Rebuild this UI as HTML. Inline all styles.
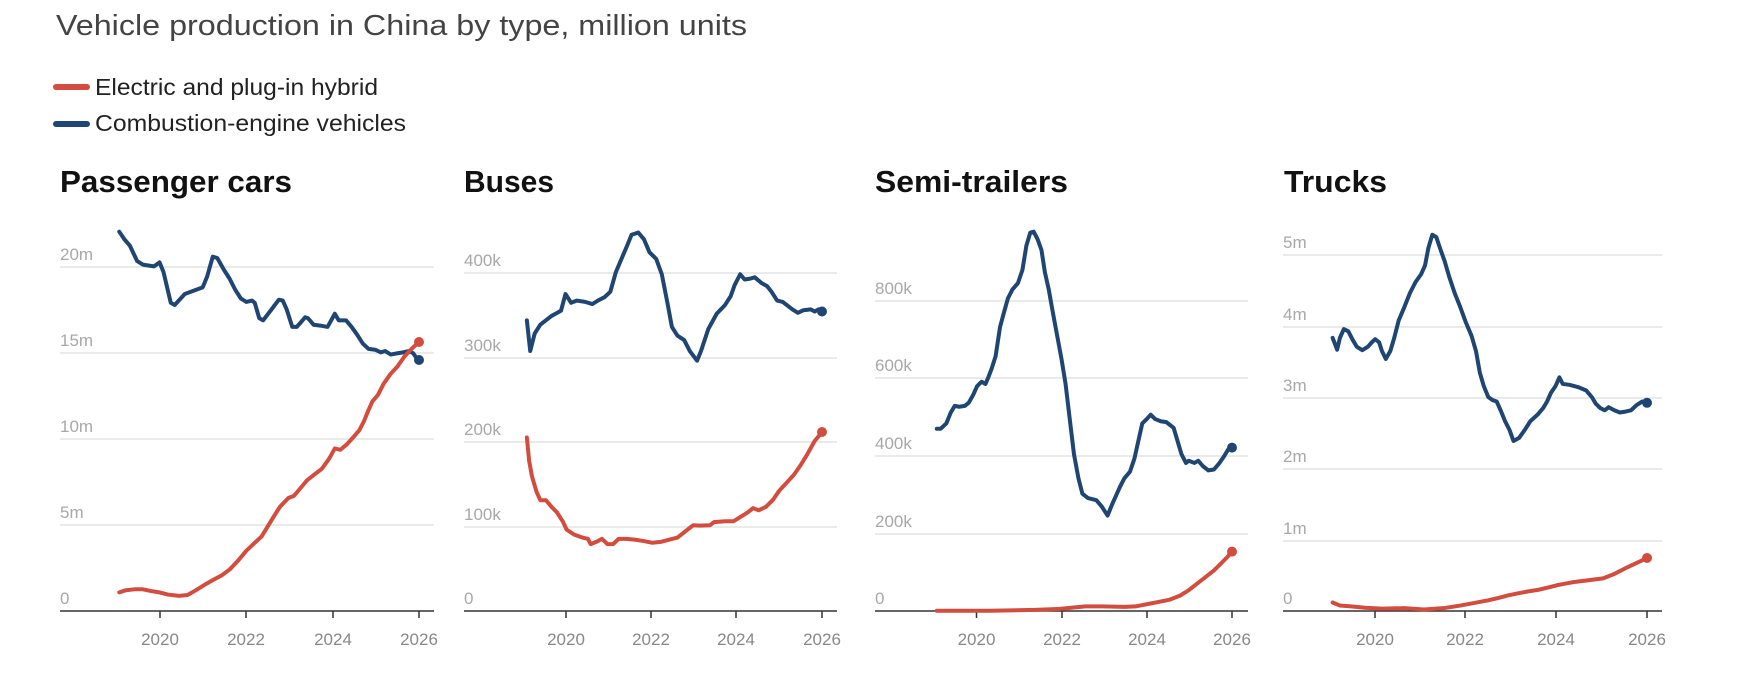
<!DOCTYPE html>
<html><head><meta charset="utf-8"><style>
html,body{margin:0;padding:0;background:#fff;}
svg{display:block;font-family:"Liberation Sans",sans-serif;}
.g{stroke:#e4e4e4;stroke-width:1.5}
.ax{stroke:#333;stroke-width:1.5}
.yl{fill:#a8a8a8;font-size:17px}
.xl{fill:#888;font-size:17px;text-anchor:middle}
.st{font-weight:bold;font-size:31px;fill:#111}
.b{fill:none;stroke:#1f4672;stroke-width:4;stroke-linejoin:round;stroke-linecap:round}
.r{fill:none;stroke:#d24d3e;stroke-width:4;stroke-linejoin:round;stroke-linecap:round}
</style></head><body>
<svg width="1756" height="688" viewBox="0 0 1756 688">
<text x="56" y="35" font-size="29" fill="#444" textLength="691" lengthAdjust="spacingAndGlyphs">Vehicle production in China by type, million units</text>
<line x1="56" y1="87" x2="87" y2="87" stroke="#d24d3e" stroke-width="6" stroke-linecap="round"/>
<line x1="56" y1="124" x2="87" y2="124" stroke="#1f4672" stroke-width="6" stroke-linecap="round"/>
<text x="95" y="95" font-size="23" fill="#222" textLength="283" lengthAdjust="spacingAndGlyphs">Electric and plug-in hybrid</text>
<text x="95" y="131" font-size="23" fill="#222" textLength="311" lengthAdjust="spacingAndGlyphs">Combustion-engine vehicles</text>

<!-- Panel 1 -->
<text class="st" x="60" y="192" textLength="232" lengthAdjust="spacingAndGlyphs">Passenger cars</text>
<g class="g"><line x1="60" y1="267" x2="434" y2="267"/><line x1="60" y1="353" x2="434" y2="353"/><line x1="60" y1="439" x2="434" y2="439"/><line x1="60" y1="525" x2="434" y2="525"/></g>
<g class="yl"><text x="60" y="260">20m</text><text x="60" y="346">15m</text><text x="60" y="432">10m</text><text x="60" y="518">5m</text><text x="60" y="604">0</text></g>
<line class="ax" x1="60" y1="611" x2="434" y2="611"/>
<g class="ax"><line x1="160" y1="611" x2="160" y2="618"/><line x1="246" y1="611" x2="246" y2="618"/><line x1="333" y1="611" x2="333" y2="618"/><line x1="419" y1="611" x2="419" y2="618"/></g>
<g class="xl"><text x="160" y="645">2020</text><text x="246" y="645">2022</text><text x="333" y="645">2024</text><text x="419" y="645">2026</text></g>
<g transform="scale(0.5599,0.4388)">
<polyline class="b" vector-effect="non-scaling-stroke" points="213,528 222,545 232,560 245,595 255,603 265,605 275,607 285,598 292,620 305,690 312,695 330,670 345,663 362,655 370,630 380,585 388,588 400,615 410,635 420,660 430,680 440,688 450,685 455,690 463,725 470,730 485,705 498,683 505,685 512,705 522,745 530,745 537,735 545,723 550,725 560,740 572,742 585,745 598,715 605,730 618,730 628,745 638,763 648,783 658,795 670,797 680,803 688,800 698,808 710,805 720,803 730,800 738,805 746,820"/>
<polyline class="r" vector-effect="non-scaling-stroke" points="213,1350 225,1345 240,1343 255,1343 270,1347 285,1350 300,1355 320,1358 335,1356 350,1345 365,1333 380,1322 395,1312 410,1298 425,1278 440,1255 455,1237 467,1223 478,1200 490,1175 500,1155 515,1135 525,1130 535,1115 548,1095 560,1083 575,1068 588,1045 598,1022 608,1025 620,1012 632,995 642,980 650,960 658,935 665,915 675,900 685,875 697,853 710,835 722,813 735,795 748,780"/>
</g>
<circle cx="419" cy="360" r="5" fill="#1f4672"/><circle cx="419" cy="342" r="5" fill="#d24d3e"/>

<!-- Panel 2 -->
<text class="st" x="464" y="192" textLength="90" lengthAdjust="spacingAndGlyphs">Buses</text>
<g class="g"><line x1="464" y1="273" x2="837" y2="273"/><line x1="464" y1="358" x2="837" y2="358"/><line x1="464" y1="442" x2="837" y2="442"/><line x1="464" y1="527" x2="837" y2="527"/></g>
<g class="yl"><text x="464" y="266">400k</text><text x="464" y="351">300k</text><text x="464" y="435">200k</text><text x="464" y="520">100k</text><text x="464" y="604">0</text></g>
<line class="ax" x1="464" y1="611" x2="837" y2="611"/>
<g class="ax"><line x1="566" y1="611" x2="566" y2="618"/><line x1="651" y1="611" x2="651" y2="618"/><line x1="736" y1="611" x2="736" y2="618"/><line x1="822" y1="611" x2="822" y2="618"/></g>
<g class="xl"><text x="566" y="645">2020</text><text x="651" y="645">2022</text><text x="736" y="645">2024</text><text x="822" y="645">2026</text></g>
<g transform="scale(0.5599,0.4388)">
<polyline class="b" vector-effect="non-scaling-stroke" points="941,730 947,800 955,760 965,740 975,730 985,720 995,713 1002,708 1010,670 1020,690 1030,685 1045,688 1058,693 1068,685 1080,677 1090,665 1100,620 1110,590 1120,560 1128,535 1140,530 1150,545 1160,575 1172,590 1182,625 1192,690 1200,745 1210,765 1222,775 1232,800 1245,822 1252,800 1265,750 1280,715 1295,695 1305,675 1312,650 1322,625 1330,637 1340,635 1348,632 1360,645 1370,652 1378,665 1388,685 1398,688 1405,695 1415,705 1425,713 1435,707 1448,705 1455,710 1462,705 1468,710"/>
<polyline class="r" vector-effect="non-scaling-stroke" points="941,997 945,1050 950,1085 958,1120 965,1140 975,1140 985,1155 995,1168 1005,1188 1012,1207 1025,1218 1040,1225 1050,1228 1055,1240 1065,1235 1075,1228 1085,1240 1095,1240 1105,1228 1120,1228 1135,1230 1150,1233 1165,1237 1180,1235 1195,1230 1210,1225 1225,1210 1238,1197 1250,1198 1268,1197 1275,1190 1295,1188 1310,1188 1320,1180 1335,1168 1345,1158 1355,1163 1368,1155 1380,1140 1392,1118 1405,1100 1418,1082 1430,1060 1442,1035 1455,1005 1468,985"/>
</g>
<circle cx="822" cy="311.5" r="5" fill="#1f4672"/><circle cx="822" cy="432" r="5" fill="#d24d3e"/>

<!-- Panel 3 -->
<text class="st" x="875" y="192" textLength="193" lengthAdjust="spacingAndGlyphs">Semi-trailers</text>
<g class="g"><line x1="875" y1="301" x2="1248" y2="301"/><line x1="875" y1="378" x2="1248" y2="378"/><line x1="875" y1="456" x2="1248" y2="456"/><line x1="875" y1="534" x2="1248" y2="534"/></g>
<g class="yl"><text x="875" y="294">800k</text><text x="875" y="371">600k</text><text x="875" y="449">400k</text><text x="875" y="527">200k</text><text x="875" y="604">0</text></g>
<line class="ax" x1="875" y1="611" x2="1248" y2="611"/>
<g class="ax"><line x1="976.5" y1="611" x2="976.5" y2="618"/><line x1="1062" y1="611" x2="1062" y2="618"/><line x1="1147" y1="611" x2="1147" y2="618"/><line x1="1232" y1="611" x2="1232" y2="618"/></g>
<g class="xl"><text x="976.5" y="645">2020</text><text x="1062" y="645">2022</text><text x="1147" y="645">2024</text><text x="1232" y="645">2026</text></g>
<g transform="translate(878,0) scale(0.5599,0.4388)">
<polyline class="b" vector-effect="non-scaling-stroke" points="105,977 112,977 122,965 130,940 137,925 145,927 155,925 162,918 170,900 177,880 185,870 192,875 197,860 203,840 210,812 218,745 225,712 232,680 240,660 250,645 258,615 265,560 272,530 278,528 285,545 292,570 298,620 305,660 312,710 320,765 328,820 335,875 342,950 350,1035 358,1090 365,1125 375,1135 390,1140 400,1155 410,1175 418,1150 425,1130 432,1110 440,1090 450,1075 458,1045 465,1005 472,965 480,955 487,945 495,955 505,960 515,962 528,975 535,1005 542,1035 550,1055 555,1050 565,1055 572,1050 580,1062 590,1072 600,1070 610,1055 618,1040 625,1025 632,1020"/>
<polyline class="r" vector-effect="non-scaling-stroke" points="105,1392 200,1392 280,1390 320,1388 345,1385 370,1382 400,1382 440,1383 460,1382 480,1377 500,1372 520,1367 540,1357 555,1345 570,1330 585,1315 600,1300 612,1285 625,1268 632,1257"/>
</g>
<circle cx="1232" cy="447.6" r="5" fill="#1f4672"/><circle cx="1232" cy="551.6" r="5" fill="#d24d3e"/>

<!-- Panel 4 -->
<text class="st" x="1284" y="192" textLength="103" lengthAdjust="spacingAndGlyphs">Trucks</text>
<g class="g"><line x1="1283" y1="255" x2="1662" y2="255"/><line x1="1283" y1="327" x2="1662" y2="327"/><line x1="1283" y1="398" x2="1662" y2="398"/><line x1="1283" y1="469" x2="1662" y2="469"/><line x1="1283" y1="541" x2="1662" y2="541"/></g>
<g class="yl"><text x="1283" y="248">5m</text><text x="1283" y="320">4m</text><text x="1283" y="391">3m</text><text x="1283" y="462">2m</text><text x="1283" y="534">1m</text><text x="1283" y="604">0</text></g>
<line class="ax" x1="1283" y1="611" x2="1662" y2="611"/>
<g class="ax"><line x1="1375" y1="611" x2="1375" y2="618"/><line x1="1465" y1="611" x2="1465" y2="618"/><line x1="1556" y1="611" x2="1556" y2="618"/><line x1="1647" y1="611" x2="1647" y2="618"/></g>
<g class="xl"><text x="1375" y="645">2020</text><text x="1465" y="645">2022</text><text x="1556" y="645">2024</text><text x="1647" y="645">2026</text></g>
<g transform="translate(878,0) scale(0.5599,0.4388)">
<polyline class="b" vector-effect="non-scaling-stroke" points="812,770 820,797 825,770 832,750 840,755 848,775 855,790 865,798 875,790 882,780 888,773 895,780 900,800 907,818 915,800 922,770 930,730 940,700 950,668 960,643 970,625 977,605 983,565 990,535 997,540 1005,570 1012,595 1020,630 1030,668 1040,700 1050,735 1060,765 1068,800 1075,850 1082,880 1090,905 1098,912 1105,915 1112,935 1120,960 1128,980 1135,1005 1145,998 1155,980 1165,960 1178,945 1188,930 1195,915 1202,895 1210,880 1217,860 1223,875 1235,877 1250,882 1265,890 1275,905 1282,920 1290,930 1298,935 1305,928 1315,935 1325,940 1335,938 1345,935 1355,923 1365,915 1372,918"/>
<polyline class="r" vector-effect="non-scaling-stroke" points="812,1373 825,1380 845,1382 870,1385 900,1387 940,1386 975,1389 1010,1386 1040,1380 1065,1374 1090,1368 1110,1362 1125,1357 1140,1353 1160,1348 1180,1344 1200,1338 1215,1333 1240,1327 1265,1323 1295,1318 1315,1308 1335,1295 1355,1283 1373,1272"/>
</g>
<circle cx="1647" cy="402.8" r="5" fill="#1f4672"/><circle cx="1647" cy="558" r="5" fill="#d24d3e"/>
</svg>
</body></html>
